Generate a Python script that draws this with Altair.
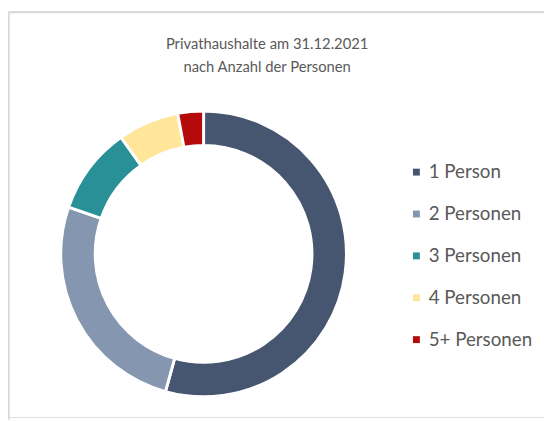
import altair as alt
import pandas as pd

categories = ["1 Person", "2 Personen", "3 Personen", "4 Personen", "5+ Personen"]
shares = [54.3, 26.0, 9.9, 6.9, 2.9]
colors = ["#465670", "#8496B0", "#2A9097", "#FFE699", "#B40A0A"]
title_text = "Privathaushalte am 31.12.2021\nnach Anzahl der Personen"

df = pd.DataFrame({"cat": categories, "val": shares, "order": list(range(len(categories)))})

FONT = "Lato"
GREY = "#595959"

arc = alt.Chart(df).mark_arc(
    innerRadius=110, outerRadius=145, stroke="white", strokeWidth=3
).encode(
    theta=alt.Theta("val:Q", stack=True),
    order=alt.Order("order:Q"),
    color=alt.Color(
        "cat:N",
        sort=categories,
        scale=alt.Scale(domain=categories, range=colors),
        legend=alt.Legend(
            title=None,
            orient="none",
            legendX=405,
            legendY=154,
            symbolType="square",
            symbolSize=49,
            symbolStrokeWidth=0,
            labelFontSize=19,
            labelFont=FONT,
            labelColor=GREY,
            labelOffset=3,
            rowPadding=22.5,
            padding=0,
        ),
    ),
    x=alt.value(198.5),
    y=alt.value(246.5),
)

title = alt.Chart(alt.Data(values=[{"t": title_text}])).mark_text(
    font=FONT, fontSize=15, color=GREY, align="center", baseline="top",
    lineBreak="\n", lineHeight=23
).encode(
    text="t:N",
    x=alt.value(263),
    y=alt.value(26.5),
)

border_top = alt.Chart(alt.Data(values=[{}])).mark_rule(
    color="#D9D9D9", strokeWidth=1.5
).encode(x=alt.value(1), x2=alt.value(560), y=alt.value(1.5))
border_left = alt.Chart(alt.Data(values=[{}])).mark_rule(
    color="#D9D9D9", strokeWidth=1.5
).encode(x=alt.value(1), y=alt.value(1.5), y2=alt.value(420))

chart = alt.layer(border_top, border_left, title, arc).properties(
    width=544, height=412, autosize=alt.AutoSizeParams(type="none"), padding=0
).configure_view(stroke=None).configure(background="white")

chart.save("out.html", embed_options={"renderer": "svg", "actions": False})
